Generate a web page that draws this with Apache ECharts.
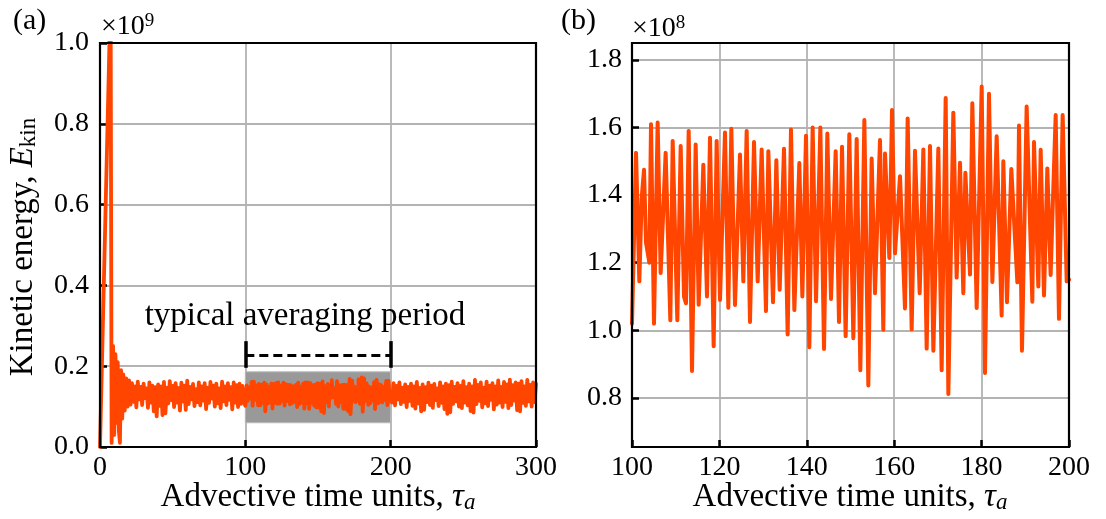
<!DOCTYPE html>
<html>
<head>
<meta charset="utf-8">
<script src="https://cdn.jsdelivr.net/npm/echarts@6/dist/echarts.min.js"></script>
<style>
  html, body { margin: 0; padding: 0; background: #ffffff; }
  #chart { width: 1106px; height: 519px; }
</style>
</head>
<body>
<div id="chart"></div>
<script>
// Kinetic energy history. Panel (a) in units of 1e9, panel (b) in units of 1e8.

// Start-up transient (time, energy x1e9)
const transientTime = [0, 7.3, 8.0, 9.0, 9.8, 10.6, 11.4, 12.2, 13.0, 13.7, 14.5, 15.3];
const transientEnergy = [0.0, 1.12, 0.01, 0.25, 0.03, 0.23, 0.06, 0.21, 0.04, 0.01, 0.19, 0.07];

// Settling phase, one sample per time unit from t = 16 to 99 (energy x1e9)
const settleStart = 16;
const settleEnergy = [
  0.18, 0.09, 0.17, 0.10, 0.165, 0.105, 0.158, 0.112, 0.150, 0.098,
  0.162, 0.118, 0.149, 0.104, 0.157, 0.121, 0.145, 0.097, 0.160, 0.110,
  0.152, 0.088, 0.148, 0.076, 0.155, 0.102, 0.150, 0.079, 0.161, 0.083,
  0.147, 0.108, 0.163, 0.116, 0.151, 0.099, 0.158, 0.110, 0.146, 0.090,
  0.159, 0.113, 0.152, 0.092, 0.164, 0.106, 0.149, 0.118, 0.156, 0.101,
  0.143, 0.111, 0.160, 0.103, 0.150, 0.115, 0.158, 0.094, 0.147, 0.109,
  0.161, 0.120, 0.152, 0.100, 0.157, 0.108, 0.145, 0.096, 0.162, 0.113,
  0.150, 0.104, 0.158, 0.117, 0.148, 0.093, 0.160, 0.110, 0.153, 0.099,
  0.157, 0.107, 0.151, 0.112
];

// Averaging window 100..200 (time, energy x1e8)
const midTime = [
  100.00, 100.92, 101.68, 102.21, 102.75, 103.20, 103.97, 104.35, 105.03, 105.87,
  106.56, 107.70, 108.77, 109.31, 110.37, 111.14, 111.90, 112.36, 112.97, 113.73,
  114.57, 115.26, 116.32, 117.16, 117.85, 118.69, 119.37, 120.14, 121.28, 122.04,
  122.73, 123.57, 124.71, 125.48, 126.24, 127.00, 127.92, 128.76, 129.67, 130.66,
  131.20, 132.27, 133.03, 133.79, 134.78, 135.62, 136.38, 137.15, 138.29, 138.98,
  139.82, 140.58, 141.34, 142.11, 143.10, 143.94, 144.70, 145.54, 146.61, 147.37,
  148.06, 148.89, 149.73, 150.65, 151.41, 152.25, 153.17, 154.08, 154.84, 155.61,
  156.75, 157.51, 157.90, 158.89, 159.50, 160.18, 161.33, 162.47, 163.08, 164.00,
  164.76, 165.83, 166.67, 167.43, 168.19, 168.96, 170.10, 170.86, 171.78, 172.39,
  173.53, 174.29, 175.06, 175.82, 176.28, 177.35, 177.88, 178.87, 180.02, 180.78,
  181.69, 182.46, 183.45, 184.59, 184.97, 185.81, 186.80, 188.18, 188.56, 189.24,
  190.31, 191.61, 191.99, 192.98, 193.52, 194.28, 195.04, 195.80, 196.19, 196.95,
  197.71, 198.55, 199.47, 200.00
];
const midEnergy = [
  1.02, 1.525, 1.145, 1.39, 1.475, 1.26, 1.20, 1.61, 1.02, 1.615,
  1.17, 1.525, 1.03, 1.56, 1.03, 1.545, 1.10, 1.08, 1.59, 0.88,
  1.55, 1.076, 1.49, 1.10, 1.57, 0.953, 1.56, 1.09, 1.585, 1.067,
  1.596, 1.075, 1.52, 1.145, 1.59, 1.025, 1.557, 1.145, 1.535, 1.057,
  1.53, 1.083, 1.503, 1.12, 1.537, 0.988, 1.594, 1.06, 1.495, 1.10,
  1.576, 0.95, 1.60, 1.086, 1.60, 0.945, 1.582, 1.093, 1.53, 1.025,
  1.543, 0.983, 1.58, 0.977, 1.566, 0.882, 1.622, 0.837, 1.508, 1.11,
  1.563, 1.002, 1.523, 1.214, 1.652, 1.228, 1.456, 1.065, 1.627, 1.003,
  1.531, 1.11, 1.535, 0.946, 1.545, 0.94, 1.538, 0.882, 1.687, 0.812,
  1.644, 1.156, 1.496, 1.11, 1.466, 1.165, 1.672, 1.066, 1.721, 0.874,
  1.70, 1.143, 1.574, 1.044, 1.50, 1.083, 1.477, 1.142, 1.606, 0.94,
  1.662, 1.085, 1.557, 1.13, 1.534, 1.103, 1.479, 1.164, 1.33, 1.637,
  1.034, 1.637, 1.145, 1.15
];

// Late phase, one sample per time unit from t = 201 to 300 (energy x1e9)
const lateStart = 201;
const lateEnergy = [
  0.110, 0.158, 0.103, 0.151, 0.118, 0.160, 0.106, 0.147, 0.112, 0.155,
  0.099, 0.149, 0.114, 0.157, 0.102, 0.150, 0.095, 0.161, 0.108, 0.146,
  0.088, 0.155, 0.092, 0.148, 0.111, 0.159, 0.104, 0.152, 0.097, 0.156,
  0.116, 0.145, 0.101, 0.160, 0.109, 0.150, 0.094, 0.157, 0.082, 0.153,
  0.086, 0.162, 0.107, 0.149, 0.113, 0.158, 0.100, 0.151, 0.096, 0.163,
  0.110, 0.148, 0.103, 0.157, 0.089, 0.150, 0.085, 0.166, 0.106, 0.154,
  0.114, 0.160, 0.098, 0.147, 0.108, 0.162, 0.101, 0.152, 0.117, 0.158,
  0.093, 0.150, 0.105, 0.165, 0.110, 0.149, 0.099, 0.161, 0.112, 0.155,
  0.096, 0.167, 0.104, 0.153, 0.115, 0.160, 0.091, 0.157, 0.088, 0.163,
  0.109, 0.150, 0.102, 0.166, 0.113, 0.154, 0.100, 0.160, 0.111, 0.156
];

// Axis ticks
const leftXTicks = [0, 100, 200, 300];
const leftYTicks = [0.0, 0.2, 0.4, 0.6, 0.8, 1.0];
const rightXTicks = [100, 120, 140, 160, 180, 200];
const rightYTicks = [0.8, 1.0, 1.2, 1.4, 1.6, 1.8];
const rightYRange = [0.655, 1.85];

// Averaging period annotation: window [start, end] and shaded band [low, high] (x1e9)
const averagingPeriod = [100, 200];
const averagingBand = [0.06, 0.186];
const bracketLevel = 0.228;
const bracketSpan = [0.196, 0.262];

// ---------- assemble series ----------
const fullSeries = [];
transientTime.forEach((t, i) => fullSeries.push([t, transientEnergy[i]]));
settleEnergy.forEach((e, i) => fullSeries.push([settleStart + i, e]));
midTime.forEach((t, i) => fullSeries.push([t, midEnergy[i] / 10]));
lateEnergy.forEach((e, i) => fullSeries.push([lateStart + i, e]));

const zoomSeries = midTime.map((t, i) => [t, midEnergy[i]]);

const serif = "'Liberation Serif', 'DejaVu Serif', serif";
const ORANGE = '#ff4500';
const GRIDC = '#b3b3b3';

// plot-area layout (pixels)
const panels = [
  { left: 100, top: 43, width: 436, height: 404 },
  { left: 632, top: 43, width: 437, height: 404 }
];

function xAxisCfg(idx, ticks) {
  return {
    type: 'value', gridIndex: idx, min: ticks[0], max: ticks[ticks.length - 1],
    interval: ticks[1] - ticks[0],
    axisLine: { show: true, onZero: false, lineStyle: { color: '#000', width: 2 } },
    axisTick: { show: true, inside: true, length: 7, lineStyle: { color: '#000', width: 2.5 } },
    axisLabel: { show: true, margin: 7, color: '#000', fontFamily: serif, fontSize: 28,
                 formatter: v => String(Math.round(v)) },
    splitLine: { show: true, lineStyle: { color: GRIDC, width: 1.8 } }
  };
}

const axisText = (main, sub, subItalic) => ({
  text: '{r|' + main + '}{i|' + sub[0] + '}{s|' + sub[1] + '}',
  fill: '#000', align: 'center', verticalAlign: 'middle',
  rich: {
    r: { fontFamily: serif, fontSize: 33, lineHeight: 34 },
    i: { fontFamily: serif, fontStyle: 'italic', fontSize: 33, lineHeight: 34 },
    s: { fontFamily: serif, fontStyle: subItalic ? 'italic' : 'normal', fontSize: 23, lineHeight: 20, verticalAlign: 'bottom' }
  }
});

const scaleText = (exp) => ({
  text: '{m|×10}{s|' + exp + '}', fill: '#000', align: 'left', verticalAlign: 'middle',
  rich: {
    m: { fontFamily: serif, fontSize: 28, lineHeight: 30 },
    s: { fontFamily: serif, fontSize: 19, lineHeight: 18, verticalAlign: 'top' }
  }
});

const graphics = [
  { type: 'text', x: 13, y: 21, silent: true,
    style: { text: '(a)', fontFamily: serif, fontSize: 30, fill: '#000', align: 'left', verticalAlign: 'middle' } },
  { type: 'text', x: 561, y: 21, silent: true,
    style: { text: '(b)', fontFamily: serif, fontSize: 30, fill: '#000', align: 'left', verticalAlign: 'middle' } },
  { type: 'text', x: 101, y: 27, silent: true, style: scaleText('9') },
  { type: 'text', x: 632, y: 29, silent: true, style: scaleText('8') },
  { type: 'text', x: 318, y: 497, silent: true, style: axisText('Advective time units, ', ['τ', 'a'], true) },
  { type: 'text', x: 850, y: 497, silent: true, style: axisText('Advective time units, ', ['τ', 'a'], true) },
  { type: 'text', x: 23, y: 247, rotation: Math.PI / 2, silent: true, style: axisText('Kinetic energy, ', ['E', 'kin'], false) },
  { type: 'text', x: 305, y: 316, silent: true, z: 10,
    style: { text: 'typical averaging period', fontFamily: serif, fontSize: 33, fill: '#000',
             align: 'center', verticalAlign: 'middle' } }
].concat(panels.map(p => ({
  // black frame around each plot area
  type: 'rect', silent: true, z: 50,
  shape: { x: p.left, y: p.top, width: p.width, height: p.height },
  style: { fill: 'rgba(0,0,0,0)', stroke: '#000000', lineWidth: 2.2 }
})));

const option = {
  animation: false,
  backgroundColor: '#ffffff',
  textStyle: { fontFamily: serif },
  grid: panels.map(p => ({ left: p.left, top: p.top, width: p.width, height: p.height,
                          show: false, containLabel: false, outerBoundsMode: 'none' })),
  xAxis: [ xAxisCfg(0, leftXTicks), xAxisCfg(1, rightXTicks) ],
  yAxis: [
    {
      type: 'value', gridIndex: 0, min: leftYTicks[0], max: leftYTicks[leftYTicks.length - 1],
      interval: leftYTicks[1] - leftYTicks[0],
      axisLine: { show: true, onZero: false, lineStyle: { color: '#000', width: 2 } },
      axisTick: { show: true, inside: true, length: 7, lineStyle: { color: '#000', width: 2.5 } },
      axisLabel: { show: true, margin: 11, color: '#000', fontFamily: serif, fontSize: 28,
                   formatter: v => v.toFixed(1) },
      splitLine: { show: true, lineStyle: { color: GRIDC, width: 1.8 } }
    },
    {
      type: 'value', gridIndex: 1, min: rightYRange[0], max: rightYRange[1],
      axisLine: { show: true, onZero: false, lineStyle: { color: '#000', width: 2 } },
      axisTick: { show: true, inside: true, length: 7, customValues: rightYTicks,
                  lineStyle: { color: '#000', width: 2.5 } },
      axisLabel: { show: true, margin: 10, color: '#000', fontFamily: serif, fontSize: 28,
                   customValues: rightYTicks, formatter: v => v.toFixed(1) },
      splitLine: { show: true, lineStyle: { color: GRIDC, width: 1.8 } }
    }
  ],
  series: [
    {
      // shaded averaging window
      type: 'line', xAxisIndex: 0, yAxisIndex: 0, data: [], z: 1, silent: true,
      markArea: {
        silent: true,
        itemStyle: { color: '#999999', borderColor: '#b8b8b8', borderWidth: 1 },
        data: [[
          { coord: [averagingPeriod[0], averagingBand[0]] },
          { coord: [averagingPeriod[1], averagingBand[1]] }
        ]]
      }
    },
    {
      name: 'E_kin', type: 'line', xAxisIndex: 0, yAxisIndex: 0, z: 3,
      data: fullSeries, showSymbol: false, symbol: 'none', clip: true,
      lineStyle: { color: ORANGE, width: 3.8, join: 'round', cap: 'round' }
    },
    {
      // bracket marking the averaging period
      type: 'line', xAxisIndex: 0, yAxisIndex: 0, data: [], z: 4, silent: true,
      markLine: {
        silent: true, symbol: ['none', 'none'], label: { show: false },
        animation: false,
        data: [
          [{ coord: [averagingPeriod[0], bracketSpan[0]], lineStyle: { color: '#000', width: 3.5, type: 'solid' } },
           { coord: [averagingPeriod[0], bracketSpan[1]] }],
          [{ coord: [averagingPeriod[1], bracketSpan[0]], lineStyle: { color: '#000', width: 3.5, type: 'solid' } },
           { coord: [averagingPeriod[1], bracketSpan[1]] }],
          [{ coord: [averagingPeriod[0], bracketLevel], lineStyle: { color: '#000', width: 3, type: [9, 5] } },
           { coord: [averagingPeriod[1], bracketLevel] }]
        ]
      }
    },
    {
      name: 'E_kin zoom', type: 'line', xAxisIndex: 1, yAxisIndex: 1, z: 3,
      data: zoomSeries, showSymbol: false, symbol: 'none', clip: true,
      lineStyle: { color: ORANGE, width: 4, join: 'round', cap: 'round' }
    }
  ],
  graphic: { elements: graphics }
};

const chart = echarts.init(document.getElementById('chart'), null, { renderer: 'canvas' });
chart.setOption(option);
</script>
</body>
</html>
